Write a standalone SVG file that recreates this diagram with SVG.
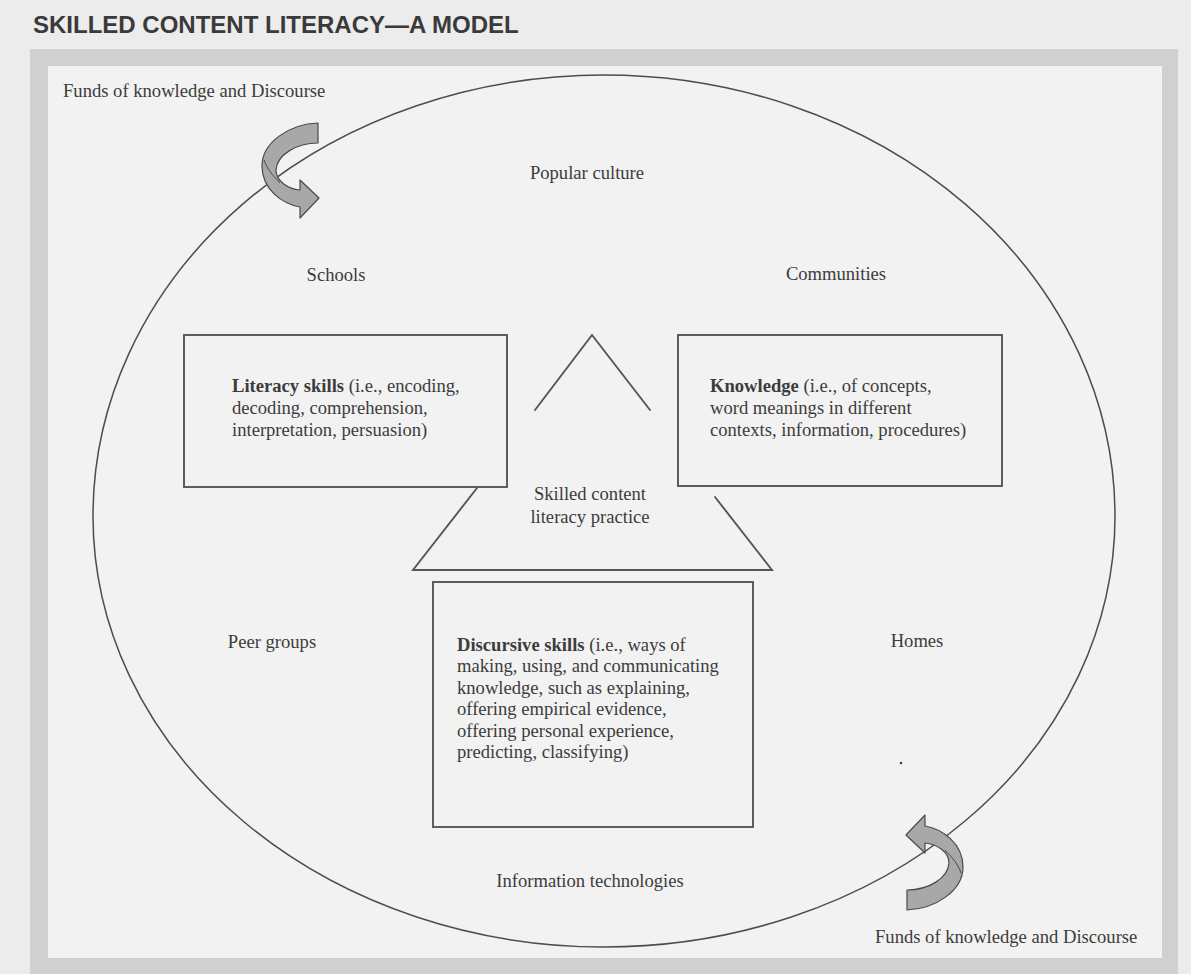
<svg xmlns="http://www.w3.org/2000/svg" width="1191" height="974" viewBox="0 0 1191 974">
  <style>
    .lbl { font-family: "Liberation Serif", "Times New Roman", serif; font-size: 18.6px; fill: #3c3c3c; }
    .mid { text-anchor: middle; }
    .b { font-weight: bold; }
    .box { fill: none; stroke: #555555; stroke-width: 1.9; }
    .tri { fill: none; stroke: #555555; stroke-width: 1.9; stroke-linecap: round; stroke-linejoin: miter; }
    .arrow { fill: #a8a8a8; stroke: #4a4a4a; stroke-width: 1.2; stroke-linejoin: round; }
    .fold { fill: none; stroke: #4a4a4a; stroke-width: 1; }
    .title { font-family: "Liberation Sans", Arial, sans-serif; font-weight: bold; font-size: 24px; fill: #3a3a3a; }
  </style>
  <defs>
    <path id="curvedArrow" d="M 318 123 C 290 124, 262 142, 262 166 C 262 190, 283 204, 300 207 L 300 218 L 319 198 L 300 180 L 300 190 C 288 189, 276 181, 276 170 C 277 155, 296 143, 318 143 Z"/>
    <path id="arrowFold" d="M 264 160 C 268 172, 276 178, 280 183"/>
  </defs>

  <!-- page background and frame -->
  <rect x="0" y="0" width="1191" height="974" fill="#ececec"/>
  <rect x="30" y="49" width="1148" height="940" fill="#d0d0d0"/>
  <rect x="48" y="66" width="1114" height="892" fill="#f2f2f2"/>

  <text id="title" class="title" x="33" y="33">SKILLED CONTENT LITERACY—A MODEL</text>

  <!-- outer ellipse (context) -->
  <g id="context-ellipse">
    <path d="M 93 516 A 511 441 0 0 1 1115 516 A 511 431 0 0 1 93 516 Z" fill="none" stroke="#4d4d4d" stroke-width="1.5"/>
  </g>

  <!-- connectors: curved flow arrows and triangle -->
  <g id="connectors">
    <use href="#curvedArrow" class="arrow"/>
    <use href="#arrowFold" class="fold"/>
    <use href="#curvedArrow" class="arrow" transform="rotate(180 612.5 516.5)"/>
    <use href="#arrowFold" class="fold" transform="rotate(180 612.5 516.5)"/>
    <polyline class="tri" points="535,410 592,335 650,410"/>
    <polyline class="tri" points="477,488 413,570 772,570 715,497"/>
  </g>

  <g id="funds-top">
    <text class="lbl" x="63" y="97">Funds of knowledge and Discourse</text>
  </g>
  <g id="funds-bottom">
    <text class="lbl" x="875" y="943">Funds of knowledge and Discourse</text>
  </g>

  <g id="popular-culture"><text class="lbl mid" x="587" y="179">Popular culture</text></g>
  <g id="schools"><text class="lbl mid" x="336" y="281">Schools</text></g>
  <g id="communities"><text class="lbl mid" x="836" y="280">Communities</text></g>
  <g id="peer-groups"><text class="lbl mid" x="272" y="648">Peer groups</text></g>
  <g id="homes"><text class="lbl mid" x="917" y="647">Homes</text></g>
  <g id="information-technologies"><text class="lbl mid" x="590" y="887">Information technologies</text></g>

  <g id="literacy-skills">
    <rect class="box" x="184" y="335" width="323" height="152"/>
    <text class="lbl" x="232" y="392"><tspan class="b">Literacy skills</tspan> (i.e., encoding,</text>
    <text class="lbl" x="232" y="414">decoding, comprehension,</text>
    <text class="lbl" x="232" y="436">interpretation, persuasion)</text>
  </g>

  <g id="knowledge">
    <rect class="box" x="678" y="335" width="324" height="151"/>
    <text class="lbl" x="710" y="392"><tspan class="b">Knowledge</tspan> (i.e., of concepts,</text>
    <text class="lbl" x="710" y="414">word meanings in different</text>
    <text class="lbl" x="710" y="436">contexts, information, procedures)</text>
  </g>

  <g id="practice">
    <text class="lbl mid" x="590" y="500">Skilled content</text>
    <text class="lbl mid" x="590" y="523">literacy practice</text>
  </g>

  <g id="discursive-skills">
    <rect class="box" x="433" y="582" width="320" height="245"/>
    <text class="lbl" x="457" y="651"><tspan class="b">Discursive skills</tspan> (i.e., ways of</text>
    <text class="lbl" x="457" y="672">making, using, and communicating</text>
    <text class="lbl" x="457" y="694">knowledge, such as explaining,</text>
    <text class="lbl" x="457" y="715">offering empirical evidence,</text>
    <text class="lbl" x="457" y="737">offering personal experience,</text>
    <text class="lbl" x="457" y="758">predicting, classifying)</text>
  </g>

  <g id="speck"><circle cx="901" cy="763" r="1.3" fill="#444"/></g>
</svg>
